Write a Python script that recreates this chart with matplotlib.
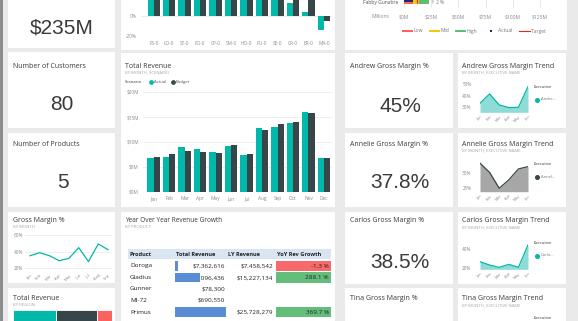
import matplotlib
matplotlib.use('Agg')
import matplotlib.pyplot as plt
from matplotlib.patches import Rectangle
import numpy as np

# ---------------- data ----------------
TEAL = '#01b8aa'; DARK = '#374649'; RED = '#fd625e'; YEL = '#f2c80f'; GRN = '#5fbe72'; NAVY = '#1a2a6c'

kpi_total_revenue = '$235M'
n_customers = '80'
n_products = '5'

stores = ['FS-0', 'LO-0', 'ST-0', 'FO-0', 'CP-0', 'SM-0', 'HO-0', 'PU-0', 'SE-0', 'CR-0', 'ER-0', 'MA-0']
store_growth_actual = [38, 42, 35, 40, 36, 41, 37, 39, 33, 13.3, 3.7, -14]
store_growth_budget = [45, 40, 44, 42, 45, 39, 43, 41, 40, 30, 25, -4.5]

bullet_ticks = [0, 25, 50, 75, 100, 125]
bullet_tick_labels = ['$0M', '$25M', '$50M', '$75M', '$100M', '$125M']
bullet_bands = [8, 14, 23]          # low / mid / high band ends (M)
bullet_actual = 8
bullet_target = 12

months = ['Jan', 'Feb', 'Mar', 'Apr', 'May', 'Jun', 'Jul', 'Aug', 'Sep', 'Oct', 'Nov', 'Dec']
rev_actual = [6.7, 7.05, 9.0, 8.5, 7.9, 9.2, 7.4, 12.8, 13.0, 13.8, 16.0, 6.7]
rev_budget = [6.9, 7.5, 8.25, 8.05, 7.7, 9.4, 7.6, 12.4, 13.55, 14.0, 15.8, 6.7]

gm_months = ['Jan', 'Feb', 'Mar', 'Apr', 'May', 'Jun', 'Jul', 'Aug', 'Sep']
gm_values = [35.1, 38.7, 35.1, 29.1, 32.0, 44.8, 28.0, 49.2, 42.4]

region_names = ['NORTH', 'EAST', 'WEST']
region_values = [103, 98, 34]

products = ['Doroga', 'Gladius', 'Gunner', 'MI-72', 'Primus']
total_rev = [7362616, 59096436, 78300, 690550, 120854182]
ly_rev = [7458542, 15227134, None, None, 25728279]
yoy_growth = [-1.3, 288.1, None, None, 369.7]

executives = ['Andrew', 'Annelie', 'Carlos', 'Tina']
exec_margin = ['45%', '37.8%', '38.5%', None]
trend_months = ['Jan', 'Feb', 'Mar', 'Apr', 'May', 'Jun']
andrew_trend = [33.5, 41.6, 32.0, 29.7, 29.9, 47.9]
annelie_trend = [33.5, 30.3, 24.8, 27.7, 31.5, 32.3]
carlos_trend = [26.8, 23.4, 21.0, 24.1, 21.0, 44.1]

# ---------------- figure ----------------
W, H = 578, 321
FONT = ['Open Sans', 'DejaVu Sans']
plt.rcParams['font.family'] = FONT

fig = plt.figure(figsize=(W / 100, H / 100), dpi=100)
fig.patch.set_facecolor('#eaeaea')
bg = fig.add_axes([0, 0, 1, 1])
bg.set_xlim(0, W); bg.set_ylim(H, 0); bg.axis('off')


def ax_px(x0, y0, x1, y1):
    a = fig.add_axes([x0 / W, 1 - y1 / H, (x1 - x0) / W, (y1 - y0) / H])
    a.set_facecolor('none')
    for s in a.spines.values():
        s.set_visible(False)
    a.tick_params(length=0, labelsize=3.4, colors='#8a8a8a')
    return a


# left strip
bg.add_patch(Rectangle((0, 0), 2.5, H, facecolor='#8c8c8c', edgecolor='none'))

tiles = [(8, -10, 115, 48), (8, 52, 115, 128), (8, 133, 115, 207), (8, 212, 115, 283), (8, 288, 115, 330),
         (121, -10, 335, 50), (121, 53, 335, 207), (121, 212, 335, 330),
         (345, -10, 567, 50),
         (345, 53, 453, 128), (458, 53, 566, 128), (345, 133, 453, 207), (458, 133, 566, 207),
         (345, 212, 453, 284), (458, 212, 566, 284), (345, 288, 453, 330), (458, 288, 566, 330)]
for x0, y0, x1, y1 in tiles:
    bg.add_patch(Rectangle((x0, y0), x1 - x0, y1 - y0, facecolor='white', edgecolor='none'))


def title(x, y, s, sub=None, size=5):
    bg.text(x, y, s, fontsize=size, color='#3a3a3a', va='center', ha='left')
    if sub:
        bg.text(x, y + 6.5, sub, fontsize=3.1, color='#a8a8a8', va='center', ha='left')


def big(x, y, s):
    bg.text(x, y, s, fontsize=15, color='#3a3a3a', va='center', ha='center',
            family=['Liberation Sans', 'DejaVu Sans'], fontstretch='condensed')


# ---------- KPI cards ----------
big(62, 28, kpi_total_revenue)
title(13, 66, 'Number of Customers')
big(62, 105, n_customers)
title(13, 144, 'Number of Products')
big(63, 183, n_products)

card_y = [66, 144, 221, 299]
num_y = [107, 183, 262, None]
for name, m, ty, ny in zip(executives, exec_margin, card_y, num_y):
    title(350, ty, f'{name} Gross Margin %')
    if m:
        big(400, ny, m)
    title(462, ty, f'{name} Gross Margin Trend', 'BY MONTH, EXECUTIVE NAME')

# ---------- top store growth chart ----------
ax = ax_px(141, -20, 332, 36)
x = np.arange(len(stores))
ax.bar(x - 0.2, store_growth_actual, 0.4, color=TEAL, zorder=2)
ax.bar(x + 0.2, store_growth_budget, 0.4, color=DARK, zorder=2)
ax.set_ylim(-20, 36)
ax.set_xlim(-0.82, 11.52)
ax.set_yticks([-20, 0])
ax.set_yticklabels(['-20%', '0%'])
ax.yaxis.grid(True, color='#e8e8e8', lw=0.6)
ax.set_axisbelow(True)
ax.set_xticks(x)
ax.set_xticklabels(stores)
ax.tick_params(axis='x', pad=3.3)
ax.tick_params(axis='y', pad=3)

# ---------- bullet chart ----------
bx = ax_px(380, -6, 548, 8)
bx.set_xlim(-24 / 1.088, 144 / 1.088)
bx.set_ylim(8, -6)
bx.vlines(bullet_ticks, -6, 7, color='#e3e3e3', lw=0.6, zorder=1)
band_cols = [RED, YEL, GRN]
left = 0
for end, c in zip(bullet_bands, band_cols):
    bx.barh(-1, end - left, left=left, height=10, color=c, zorder=2)
    left = end
bx.barh(-1.5, bullet_actual, height=7, color=NAVY, zorder=3)
bx.vlines(bullet_target, -6, 3, color='#e8241f', lw=0.8, zorder=4)
bx.set_xticks(bullet_ticks)
bx.set_xticklabels(bullet_tick_labels)
bx.tick_params(axis='x', labelsize=3.6, pad=4.6)
bx.set_yticks([])
bg.text(380, 17, 'Millions', fontsize=3.6, color='#8a8a8a', ha='center', va='center')
bg.text(398, 2.4, 'Fabby Gunabre', fontsize=3.6, color='#555', ha='right', va='center')
bg.text(431, 2.4, '↑ 2 %', fontsize=3.4, color='#777', ha='left', va='center')
# legend
leg_y = 31
for (lx0, lx1, col, lab) in [(402, 413, RED, 'Low'), (429, 440, YEL, 'Mid'), (455, 466, GRN, 'High')]:
    bg.add_patch(Rectangle((lx0, leg_y - 1.4), lx1 - lx0, 2.8, facecolor=col, edgecolor='none'))
    bg.text(lx1 + 0.5, leg_y, lab, fontsize=3.6, color='#777', va='center', ha='left')
bg.add_patch(Rectangle((490, leg_y - 1.2), 2.4, 2.4, facecolor=NAVY, edgecolor='none'))
bg.text(498, leg_y, 'Actual', fontsize=3.6, color='#777', va='center', ha='left')
bg.plot([519, 530], [leg_y, leg_y], color='#e8241f', lw=0.8)
bg.text(531, leg_y, 'Target', fontsize=3.6, color='#777', va='center', ha='left')

# ---------- Total revenue by month ----------
title(125, 66, 'Total Revenue', 'BY MONTH, SCENARIO')
bg.text(125, 82, 'Scenario', fontsize=3.1, color='#333', va='center')
bg.plot([151], [82], 'o', ms=2.4, color=TEAL)
bg.text(154, 82, 'Actual', fontsize=3.1, color='#555', va='center')
bg.plot([172.5], [82], 'o', ms=2.4, color=DARK)
bg.text(175.5, 82, 'Budget', fontsize=3.1, color='#555', va='center')

ax = ax_px(143, 92, 332, 192)
x = np.arange(len(months))
ax.bar(x - 0.2, rev_actual, 0.4, color=TEAL, zorder=2)
ax.bar(x + 0.2, rev_budget, 0.4, color=DARK, zorder=2)
ax.set_ylim(0, 20)
ax.set_xlim(-0.69, 11.52)
ax.set_yticks([0, 5, 10, 15, 20])
ax.set_yticklabels([f'${v}M' for v in [0, 5, 10, 15, 20]])
ax.yaxis.grid(True, color='#ececec', lw=0.6)
ax.set_axisbelow(True)
ax.set_xticks(x)
ax.set_xticklabels(months)
ax.tick_params(axis='x', pad=3.2)
ax.tick_params(axis='y', pad=3)

# ---------- Gross Margin % line ----------
title(13, 221, 'Gross Margin %', 'BY MONTH')
ax = ax_px(25, 232, 112, 271)
x = np.arange(len(gm_values))
ax.plot(x, gm_values, color=TEAL, lw=0.9, zorder=3)
ax.set_xlim(-0.51, 8.41)
ax.set_ylim(16.76, 63.6)
ax.set_yticks([20, 40, 60])
ax.set_yticklabels(['20%', '40%', '60%'])
ax.yaxis.grid(True, color='#ececec', lw=0.6)
ax.set_xticks(x)
ax.set_xticklabels(gm_months, rotation=45, ha='right', rotation_mode='anchor')
ax.tick_params(axis='y', pad=1.5)
ax.tick_params(axis='x', pad=1.5, labelsize=3)

# ---------- Total revenue by region ----------
title(13, 299, 'Total Revenue', 'BY REGION')
ax = ax_px(13, 310, 111.5, 334)
cum = 0
for name, v, c in zip(region_names, region_values, [TEAL, DARK, RED]):
    ax.barh(0, v, left=cum, height=1, color=c, edgecolor='white', lw=0.6)
    cum += v
ax.set_xlim(0, sum(region_values))
ax.set_ylim(-0.5, 0.5)
ax.set_xticks([]); ax.set_yticks([])
bg.text(15, 315.5, region_names[0], fontsize=3, color='white', va='center')
bg.text(15 + region_values[0] / sum(region_values) * 98.5, 315.5, region_names[1], fontsize=3,
        color='white', va='center')

# ---------- YoY table ----------
title(125, 221, 'Year Over Year Revenue Growth', 'BY PRODUCT', size=4.7)
bg.add_patch(Rectangle((128, 249), 203, 10, facecolor='#d9e5f3', edgecolor='none'))
hdr_y = 254
for hx, h in [(130, 'Product'), (176, 'Total Revenue'), (228, 'LY Revenue'), (277, 'YoY Rev Growth')]:
    bg.text(hx, hdr_y, h, fontsize=4.1, fontweight='bold', color='#222', va='center', ha='left')

row_h = 11.5
row_y0 = 266
tx = ax_px(175, row_y0 - row_h / 2, 225.5, row_y0 + row_h * 4.5)
tx.barh(np.arange(len(products)), total_rev, height=0.8, color='#5b8dd6')
tx.set_xlim(0, max(total_rev))
tx.set_ylim(4.5, -0.5)
tx.set_xticks([]); tx.set_yticks([])

for i, (p, tr, ly, g) in enumerate(zip(products, total_rev, ly_rev, yoy_growth)):
    yy = row_y0 + i * row_h
    bg.text(130, yy, p, fontsize=4.6, color='#222', va='center', ha='left')
    bg.text(225, yy, f'${tr:,.0f}', fontsize=4.6, color='#222', va='center', ha='right', zorder=5)
    if ly is not None:
        bg.text(273, yy, f'${ly:,.0f}', fontsize=4.6, color='#222', va='center', ha='right')
    if g is not None:
        col = '#f8696b' if g < 0 else '#63be7b'
        bg.add_patch(Rectangle((276, yy - row_h / 2 + 0.4), 55, row_h - 0.8, facecolor=col, edgecolor='none'))
        bg.text(329, yy, f'{g:.1f} %', fontsize=4.6, color='#222', va='center', ha='right')

# ---------- executive trend charts ----------
def trend(y0, y1, ylim, vals, fill, line, ticks, name, leg_y):
    a = ax_px(480, y0, 528, y1)
    xx = np.arange(len(vals))
    a.fill_between(xx, vals, ylim[0], color=fill, lw=0)
    a.plot(xx, vals, color=line, lw=0.9)
    a.set_xlim(0, len(vals) - 1)
    a.set_ylim(*ylim)
    a.set_yticks(ticks)
    a.set_yticklabels([f'{t}%' for t in ticks])
    a.set_xticks(xx)
    a.set_xticklabels(trend_months, rotation=45, ha='right', rotation_mode='anchor')
    a.tick_params(axis='y', pad=6)
    a.tick_params(axis='x', pad=1.5, labelsize=2.8)
    bg.text(534, leg_y, 'Executive', fontsize=3, color='#333', va='center')
    bg.plot([537], [leg_y + 12.5], 'o', ms=2.6, color=line)
    bg.text(541, leg_y + 12.5, name[:5] + '...', fontsize=3, color='#777', va='center')


trend(80, 112.3, (25.6, 53.7), andrew_trend, '#8edcd5', TEAL, [30, 40, 50], executives[0], 87)
trend(158, 191.7, (23.6, 35.3), annelie_trend, '#a7a7a7', DARK, [25, 30], executives[1], 164)
trend(240, 269.3, (19, 49.3), carlos_trend, '#8edcd5', TEAL, [20, 40], executives[2], 243)
bg.text(534, 318, 'Executive', fontsize=3, color='#333', va='center')

fig.savefig('out.png', dpi=100, facecolor=fig.get_facecolor())
